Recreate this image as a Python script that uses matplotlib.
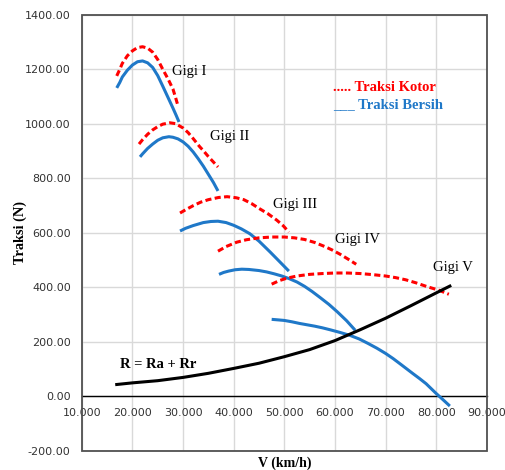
import matplotlib
matplotlib.use('Agg')
import matplotlib.pyplot as plt
from matplotlib.patches import Rectangle

# kecepatan (km/h) dan traksi (N) tiap gigi
v1_kotor = [16.9, 17.5, 18, 19, 20, 21, 22, 23, 24, 25, 26, 27, 28, 28.5, 29.0]
t1_kotor = [1176, 1200, 1222, 1250, 1268, 1280, 1283, 1278, 1263, 1236, 1200,
            1166, 1128, 1098, 1066]
v1_bersih = [16.9, 17.5, 18, 19, 20, 21, 22, 23, 24, 25, 26, 27, 28, 28.6, 29.2]
t1_bersih = [1132, 1152, 1172, 1197, 1216, 1228, 1231, 1224, 1207, 1177, 1138,
             1098, 1058, 1033, 1007]

v2_kotor = [21.3, 22, 23, 24, 25, 26, 27.4, 28.5, 30, 31, 32, 33.3, 34, 35, 36, 36.9]
t2_kotor = [926, 942, 962, 978, 990, 999, 1004, 1001, 985, 968, 946, 916, 902,
            880, 860, 842]
v2_bersih = [21.5, 22, 23, 24, 25, 26, 27.2, 28, 29, 30, 31, 32, 33, 34, 35, 36, 36.9]
t2_bersih = [879, 890, 910, 926, 940, 949, 953, 951, 945, 934, 918, 897, 872,
             845, 815, 785, 754]

v3_kotor = [29.4, 30.5, 32, 33.5, 35, 37, 38.7, 40.5, 42, 43.5, 45, 46.8, 48.5,
            49.8, 50.9]
t3_kotor = [673, 685, 700, 713, 722, 730, 733, 729, 722, 708, 690, 670, 647,
            626, 603]
v3_bersih = [29.4, 30.5, 32, 34, 35.5, 36.9, 38.5, 40, 41.5, 43.2, 45, 47.2, 49,
             50.9]
t3_bersih = [607, 617, 627, 638, 642, 643, 638, 628, 615, 597, 570, 530, 496, 460]

v4_kotor = [36.9, 38.5, 40.6, 42.5, 45, 47.5, 50, 52, 54, 56, 58, 59.5, 61,
            62.5, 64.2]
t4_kotor = [533, 550, 566, 575, 582, 585, 585, 582, 576, 565, 550, 537, 522,
            505, 485]
v4_bersih = [37.1, 38, 39, 40.3, 41.6, 43, 45, 46.5, 48, 49.5, 51, 52.5, 54,
             55.5, 57, 58.8, 60.5, 62.3, 64.0]
t4_bersih = [448, 455, 460, 465, 467, 466, 462, 457, 450, 442, 432, 420, 404,
             385, 364, 338, 310, 278, 243]

v5_kotor = [47.5, 49, 50.5, 52.5, 55, 57.5, 60, 62.5, 65, 67.5, 70, 72, 74, 76,
            78.2, 80.5, 82.5]
t5_kotor = [412, 425, 434, 442, 448, 451, 453, 453, 451, 447, 442, 436, 428,
            417, 403, 390, 375]
v5_bersih = [47.5, 48.8, 50, 51.5, 53, 54.5, 56, 57.5, 59, 61, 63, 64.8, 66.5,
             68.3, 70, 71.5, 73, 74.2, 75.4, 76.7, 78, 79, 80, 81.3, 82.7]
t5_bersih = [283, 281, 279, 274, 268, 263, 258, 252, 245, 235, 224, 211, 195,
             177, 158, 139, 118, 101, 84, 66, 47, 29, 11, -11, -35]

# hambatan total R = Ra + Rr
v_hambatan = [16.9, 20, 25, 30, 35, 40, 45, 50, 55, 60, 65, 70, 75, 80, 82.7]
r_hambatan = [44, 50, 58, 70, 85, 103, 122, 146, 172, 205, 245, 287, 333, 380, 405]

x_ticks = [10, 20, 30, 40, 50, 60, 70, 80, 90]
y_ticks = [-200, 0, 200, 400, 600, 800, 1000, 1200, 1400]

merah = '#ff0000'
biru = '#1f78c8'
serif = ['Liberation Serif', 'DejaVu Serif']

fig = plt.figure(figsize=(5.05, 4.7), dpi=100)
ax = fig.add_axes([0.162, 0.0404, 0.802, 0.928])

kotor = [(v1_kotor, t1_kotor), (v2_kotor, t2_kotor), (v3_kotor, t3_kotor),
         (v4_kotor, t4_kotor), (v5_kotor, t5_kotor)]
bersih = [(v1_bersih, t1_bersih), (v2_bersih, t2_bersih), (v3_bersih, t3_bersih),
          (v4_bersih, t4_bersih), (v5_bersih, t5_bersih)]

for v, t in bersih:
    ax.plot(v, t, color=biru, lw=2.2, solid_capstyle='butt',
            solid_joinstyle='round', zorder=3)
for v, t in kotor:
    ax.plot(v, t, color=merah, lw=2.2, dashes=(2.0, 1.1), zorder=4)
ax.plot(v_hambatan, r_hambatan, color='black', lw=2.2,
        solid_joinstyle='round', zorder=5)

ax.set_xlim(10, 90)
ax.set_ylim(-200, 1400)
ax.set_xticks(x_ticks)
ax.set_yticks(y_ticks)
ax.set_xticklabels(['%.3f' % x for x in x_ticks])
ax.set_yticklabels(['%.2f' % y for y in y_ticks])
ax.tick_params(length=0, labelsize=8, labelcolor='#333333')
ax.tick_params(axis='x', pad=8)
ax.tick_params(axis='y', pad=8)

ax.grid(color='#d9d9d9', lw=1)
ax.set_axisbelow(True)

# sumbu x memotong di traksi 0
ax.spines['bottom'].set_position(('data', 0))
ax.spines['bottom'].set_color('black')
ax.spines['bottom'].set_linewidth(1)
for s in ['top', 'right', 'left']:
    ax.spines[s].set_visible(False)
ax.add_patch(Rectangle((0, 0), 1, 1, transform=ax.transAxes, fill=False,
                       ec='#505050', lw=1.3, clip_on=False, zorder=6))

# label gigi
ax.text(27.8, 1191, 'Gigi I', fontsize=10.5, family=serif, va='center')
ax.text(35.3, 952, 'Gigi II', fontsize=10.5, family=serif, va='center')
ax.text(47.7, 706, 'Gigi III', fontsize=10.5, family=serif, va='center')
ax.text(60.0, 577, 'Gigi IV', fontsize=10.5, family=serif, va='center')
ax.text(79.4, 473, 'Gigi V', fontsize=10.5, family=serif, va='center')
ax.text(17.5, 118, 'R = Ra + Rr', fontsize=10.5, family=serif,
        weight='bold', va='center')

# keterangan
ax.text(59.6, 1132, '..... Traksi Kotor', fontsize=10.5, family=serif,
        weight='bold', color=merah, va='center')
ax.text(59.6, 1070, '___ Traksi Bersih', fontsize=10.5, family=serif,
        weight='bold', color=biru, va='center')

fig.text(285 / 505, 1 - 463 / 470, 'V (km/h)', fontsize=10, family=serif,
         weight='bold', ha='center', va='center')
fig.text(20 / 505, 1 - 232 / 470, 'Traksi (N)', fontsize=10.3, family=serif,
         weight='bold', ha='center', va='center', rotation=90)

fig.savefig('out.png', dpi=100)
